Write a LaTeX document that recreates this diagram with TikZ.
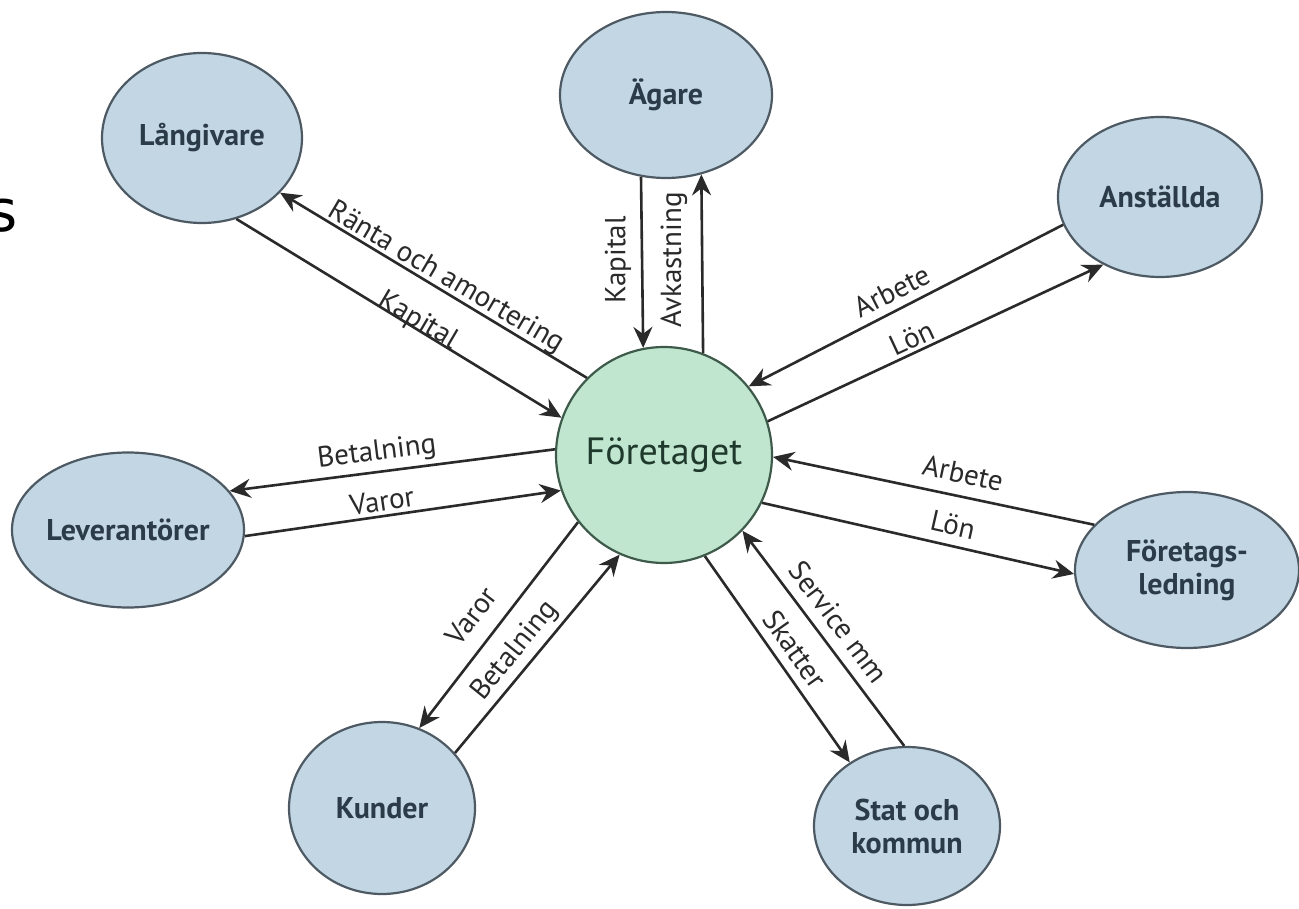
\documentclass[tikz,border=0pt]{standalone}
\usepackage{fontspec}
\setmainfont{PT Sans}
\newfontfamily\sfont{DejaVu Sans}
\usetikzlibrary{arrows.meta,shapes.geometric}
\definecolor{ebg}{HTML}{C2D6E4}
\definecolor{eline}{HTML}{4E5A63}
\definecolor{etext}{HTML}{2C3B48}
\definecolor{cbg}{HTML}{C0E6CF}
\definecolor{cline}{HTML}{3E5A4A}
\definecolor{ctext}{HTML}{1F3A2C}
\definecolor{aline}{HTML}{2A2A2A}
\begin{document}
\begin{tikzpicture}[x=1pt,y=-1pt,
  party/.style={ellipse, draw=eline, line width=2.2pt, fill=ebg, inner sep=0pt,
    text=etext, font=\fontsize{30}{33}\selectfont\bfseries, align=center},
  hub/.style={circle, draw=cline, line width=2.2pt, fill=cbg, inner sep=0pt,
    minimum size=216pt, text=ctext, font=\fontsize{38}{42}\selectfont},
  flow/.style={draw=aline, line width=2.6pt, -{Stealth[length=21pt,width=19pt,inset=7pt]}},
  lbl/.style={text=aline, font=\fontsize{29}{32}\selectfont, inner sep=0pt}
]
\useasboundingbox (0,0) rectangle (1299,909);
\fill[white] (0,0) rectangle (1299,909);

\node[anchor=east, font=\sfont\fontsize{58}{60}\selectfont, inner sep=0pt] (s) at (18,216) {s};

\node[hub] (F) at (664,455) {Företaget};
\node[party, minimum width=200pt, minimum height=170pt] (L) at (202,138) {Långivare};
\node[party, minimum width=212pt, minimum height=166pt] (A) at (666,95) {Ägare};
\node[party, minimum width=204pt, minimum height=160pt] (N) at (1160,197) {Anställda};
\node[party, minimum width=232pt, minimum height=155pt] (V) at (128,530) {Leverantörer};
\node[party, minimum width=224pt, minimum height=156pt] (G) at (1187,570) {Företags-\\ledning};
\node[party, minimum width=186pt, minimum height=172pt] (K) at (382,808) {Kunder};
\node[party, minimum width=186pt, minimum height=158pt] (S) at (907,826) {Stat och\\kommun};

% Långivare
\draw[flow] (F.135.7) -- (L.-35.5);
\draw[flow] (L.-67) -- (F.160.5);
% Ägare
\draw[flow] (A.-107.4) -- (F.101.8);
\draw[flow] (F.69.6) -- (A.-66);
% Anställda
\draw[flow] (N.-164) -- (F.39.1);
\draw[flow] (F.18.3) -- (N.-130.2);
% Leverantörer
\draw[flow] (F.177) -- (V.21.8);
\draw[flow] (V.-3.4) -- (F.-161.4);
% Företagsledning
\draw[flow] (G.154.8) -- (F.-1);
\draw[flow] (F.-26.3) -- (G.182.5);
% Kunder
\draw[flow] (F.-142.3) -- (K.65.9);
\draw[flow] (K.37.4) -- (F.-114.7);
% Stat och kommun
\draw[flow] (F.-68.1) -- (S.132.1);
\draw[flow] (S.92.8) -- (F.-44.7);

% labels
\node[lbl, rotate=-30.5] (l1) at (446,278) {Ränta och amortering};
\node[lbl, rotate=-30.5] (l2) at (418,321) {Kapital};
\node[lbl, rotate=90] (l3) at (618,260) {Kapital};
\node[lbl, rotate=90] (l4) at (674,260) {Avkastning};
\node[lbl, rotate=27] (l5) at (892,291) {Arbete};
\node[lbl, rotate=25] (l6) at (912,338) {Lön};
\node[lbl, rotate=7] (l7) at (377,453) {Betalning};
\node[lbl, rotate=8.5] (l8) at (382,501) {Varor};
\node[lbl, rotate=-12] (l9) at (963,473) {Arbete};
\node[lbl, rotate=-12.8] (l10) at (953,525) {Lön};
\node[lbl, rotate=52.7] (l11) at (471,616) {Varor};
\node[lbl, rotate=51] (l12) at (515,651) {Betalning};
\node[lbl, rotate=-54.9] (l13) at (795,649) {Skatter};
\node[lbl, rotate=-53] (l14) at (839,622) {Service mm};
\end{tikzpicture}
\end{document}
